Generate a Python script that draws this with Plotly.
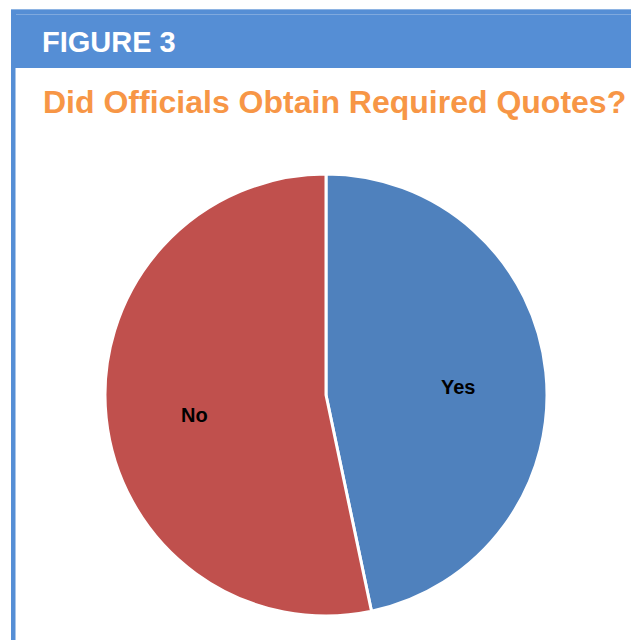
import math
import plotly.graph_objects as go

labels = ["Yes", "No"]
values = [46.7, 53.3]
colors = ["#4F81BD", "#C0504D"]

header_text = "FIGURE 3"
title_text = "Did Officials Obtain Required Quotes?"

W, H = 631, 640
def px(x):
    return x / W
def py(y):
    return 1 - y / H

cx, cy, r = 326, 395, 221

fig = go.Figure(go.Pie(
    labels=labels, values=values, sort=False, direction="clockwise", rotation=0,
    marker=dict(colors=colors, line=dict(color="white", width=3)),
    textinfo="none",
    domain=dict(x=[px(cx - r), px(cx + r)], y=[py(cy + r), py(cy - r)]),
    showlegend=False, hoverinfo="label+percent",
))

shapes = [
    dict(type="rect", xref="paper", yref="paper", x0=px(11), x1=1.01, y0=py(68), y1=py(9),
         fillcolor="#558ED5", line=dict(width=0), layer="below"),
    dict(type="rect", xref="paper", yref="paper", x0=px(11), x1=px(15.5), y0=-0.01, y1=py(9),
         fillcolor="#558ED5", line=dict(width=0), layer="below"),
    dict(type="line", xref="paper", yref="paper", x0=px(11), x1=1.01, y0=py(9.5), y1=py(9.5),
         line=dict(color="#8EB4E3", width=1)),
    dict(type="line", xref="paper", yref="paper", x0=px(16), x1=1.01, y0=py(14.5), y1=py(14.5),
         line=dict(color="#7FA9DE", width=1)),
]

annotations = [
    dict(text=header_text, xref="paper", yref="paper", x=px(40), y=py(42), xanchor="left", yanchor="middle",
         showarrow=False, font=dict(family="Liberation Sans, Arial", size=29, color="white", weight="bold")),
    dict(text=title_text, xref="paper", yref="paper", x=px(41), y=py(102), xanchor="left", yanchor="middle",
         showarrow=False, font=dict(family="Liberation Sans, Arial", size=32, color="#F79646", weight="bold")),
]

# slice labels placed at each slice's mid-angle (derived from the values)
total = sum(values)
cum = 0.0
for lab, v in zip(labels, values):
    mid = (cum + v / 2) / total * 2 * math.pi
    cum += v
    lx = cx + 0.6 * r * math.sin(mid)
    ly = cy - 0.6 * r * math.cos(mid) + 6
    annotations.append(dict(text=lab, xref="paper", yref="paper", x=px(lx), y=py(ly),
                            xanchor="center", yanchor="middle", showarrow=False,
                            font=dict(family="Liberation Sans, Arial", size=20, color="black", weight="bold")))

fig.update_layout(
    width=W, height=H, margin=dict(l=0, r=0, t=0, b=0),
    paper_bgcolor="white", plot_bgcolor="white",
    shapes=shapes, annotations=annotations,
)

fig.write_html("out.html")
